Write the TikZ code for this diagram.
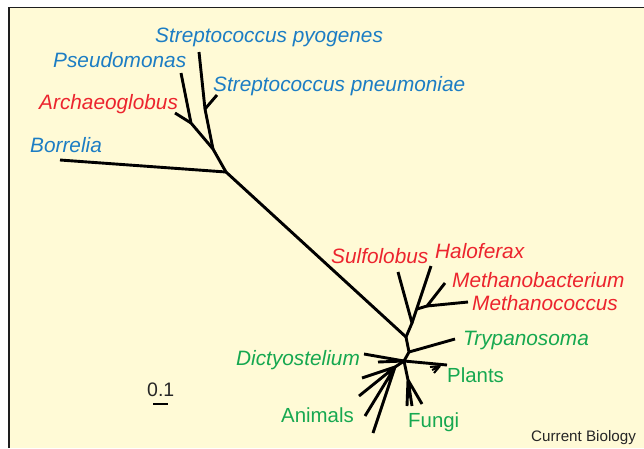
\documentclass[tikz,border=0pt]{standalone}
\usepackage{fontspec}
\setmainfont{Liberation Sans}
\definecolor{bg}{RGB}{255,250,214}
\definecolor{sblue}{RGB}{28,125,196}
\definecolor{sred}{RGB}{236,36,46}
\definecolor{sgreen}{RGB}{22,168,80}
\definecolor{frame}{RGB}{30,30,30}
\begin{document}
\begin{tikzpicture}[x=1pt,y=-1pt,
  br/.style={line width=2.9pt,line join=round},
  lab/.style={inner sep=0pt,anchor=base west,font=\fontsize{20.8}{24}\selectfont\itshape},
  ulab/.style={inner sep=0pt,anchor=base west,font=\fontsize{20.4}{24}\selectfont},
  bac/.style={lab,text=sblue},
  arc/.style={lab,text=sred},
  euk/.style={lab,text=sgreen},
  eukr/.style={ulab,text=sgreen}]
\useasboundingbox (0,0) rectangle (644,448);
\fill[white] (0,0) rectangle (644,448);
\fill[bg] (9,7.5) rectangle (644,448);
\draw[frame,line width=1.5pt] (9,448) -- (9,7.5) -- (644,7.5);

% bacteria
\coordinate (borr) at (60,160);
\coordinate (A) at (226,172);
\coordinate (B) at (213,149);
\coordinate (C) at (191,123);
\coordinate (pseu) at (181,73);
\coordinate (arch) at (175,113);
\coordinate (D) at (205,109);
\coordinate (spyo) at (199,52);
\coordinate (spne) at (217,95);
% archaea
\coordinate (F) at (406,337);
\coordinate (G) at (412,323);
\coordinate (sulf) at (398,272);
\coordinate (halo) at (431,266);
\coordinate (H) at (417,309);
\coordinate (M) at (427,306);
\coordinate (mbac) at (445,283);
\coordinate (mcoc) at (468,302);
% eukaryotes
\coordinate (I) at (409,352);
\coordinate (tryp) at (455,339);
\coordinate (E) at (404,361);
\coordinate (dict) at (364,354);
\coordinate (prot) at (378,362);
\coordinate (pl) at (447,365);
\coordinate (plf) at (440,366);
\coordinate (pl1) at (430,367);
\coordinate (pl2) at (432,370);
\coordinate (pl3) at (434,373);
\coordinate (Fu) at (408,380);
\coordinate (fu1) at (407,406);
\coordinate (fu2) at (412,406);
\coordinate (fu4) at (422,404);
\coordinate (An) at (395,367);
\coordinate (an1) at (362,378);
\coordinate (an2) at (359,396);
\coordinate (an3) at (365,416);
\coordinate (an4) at (373,433);

\draw[br] (borr) -- (A);
\draw[br] (A) -- (B) -- (C) -- (pseu);
\draw[br] (C) -- (arch);
\draw[br] (B) -- (D) -- (spyo);
\draw[br] (D) -- (spne);
\draw[br] (A) -- (F);
\draw[br] (F) -- (G) -- (sulf);
\draw[br] (G) -- (halo);
\draw[br] (H) -- (M) -- (mbac);
\draw[br] (M) -- (mcoc);
\draw[br] (F) -- (I) -- (E);
\draw[br] (I) -- (tryp);
\draw[br] (E) -- (dict);
\draw[br] (E) -- (prot);
\draw[br] (E) -- (pl);
\draw[line width=2pt] (plf) -- (pl1) (plf) -- (pl2) (plf) -- (pl3);
\draw[br] (E) -- (Fu);
\draw[br] (Fu) -- (fu1) (Fu) -- (fu2) (Fu) -- (fu4);
\draw[br] (E) -- (An);
\draw[br] (An) -- (an1) (An) -- (an2) (An) -- (an3) (An) -- (an4);

% labels
\node[bac] (lspyo) at (155,42) {Streptococcus pyogenes};
\node[bac] (lpseu) at (53,67) {Pseudomonas};
\node[bac] (lspne) at (213,91) {Streptococcus pneumoniae};
\node[arc] (larch) at (39,109) {Archaeoglobus};
\node[bac] (lborr) at (30,152) {Borrelia};
\node[arc] (lsulf) at (331,263) {Sulfolobus};
\node[arc] (lhalo) at (435,258) {Haloferax};
\node[arc] (lmbac) at (452,287) {Methanobacterium};
\node[arc] (lmcoc) at (472,310) {Methanococcus};
\node[euk] (ltryp) at (463,345) {Trypanosoma};
\node[euk] (ldict) at (236,365) {Dictyostelium};
\node[eukr] (lpl) at (447,382) {Plants};
\node[eukr] (lan) at (281,422) {Animals};
\node[eukr] (lfu) at (408,427) {Fungi};

% scale
\node[inner sep=0pt,anchor=base west,font=\fontsize{19.5}{22}\selectfont,text=black!85] (scl) at (147,396) {0.1};
\coordinate (s1) at (153,404);
\coordinate (s2) at (168,404);
\draw[line width=2.2pt] (s1) -- (s2);

\node[inner sep=0pt,anchor=base west,font=\fontsize{15.2}{18}\selectfont,text=black!85] (cb) at (531,441) {Current Biology};
\end{tikzpicture}
\end{document}
